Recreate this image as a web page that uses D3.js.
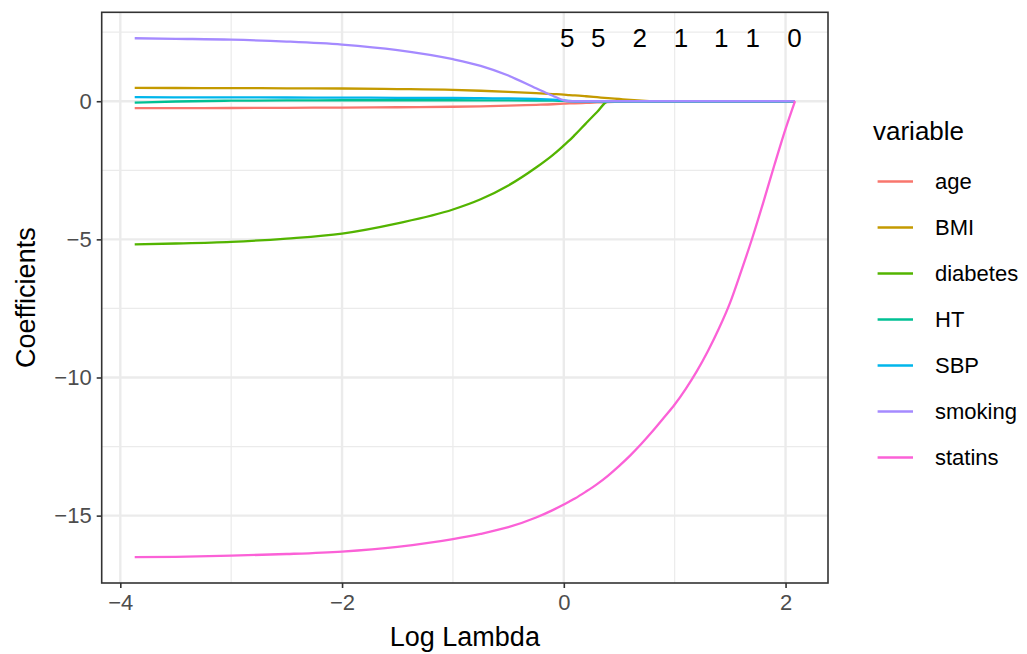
<!DOCTYPE html>
<html>
<head>
<meta charset="utf-8">
<script src="https://cdn.jsdelivr.net/npm/d3@7"></script>
<style>
  body { margin: 0; background: #fff; }
  text { font-family: "Liberation Sans", Arial, sans-serif; }
</style>
</head>
<body>
<div id="chart"></div>
<script>
// lasso coefficient paths
const logLambda = [-3.87, -3.5, -3, -2.5, -2, -1.5, -1, -0.75, -0.5, -0.25, -0.1, 0, 0.05, 0.1, 0.2, 0.3, 0.4, 0.5, 0.6, 0.7, 0.8, 0.9, 1.0, 1.1, 1.2, 1.3, 1.4, 1.5, 1.6, 1.7, 1.8, 1.9, 2.0, 2.085];

const age      = [-0.25, -0.248, -0.245, -0.238, -0.23, -0.218, -0.2, -0.185, -0.16, -0.13, -0.11, -0.09, -0.08, -0.075, -0.06, -0.045, -0.035, -0.02, -0.01, 0, 0, 0, 0, 0, 0, 0, 0, 0, 0, 0, 0, 0, 0, 0];
const bmi      = [0.48, 0.478, 0.475, 0.468, 0.46, 0.44, 0.41, 0.38, 0.34, 0.29, 0.26, 0.24, 0.22, 0.21, 0.18, 0.145, 0.11, 0.08, 0.05, 0.025, 0, 0, 0, 0, 0, 0, 0, 0, 0, 0, 0, 0, 0, 0];
const diabetes = [-5.18, -5.15, -5.09, -4.97, -4.79, -4.42, -3.92, -3.55, -3.05, -2.4, -1.95, -1.6, -1.42, -1.22, -0.8, -0.39, 0, 0, 0, 0, 0, 0, 0, 0, 0, 0, 0, 0, 0, 0, 0, 0, 0, 0];
const ht       = [-0.05, -0.01, 0.02, 0.03, 0.035, 0.035, 0.035, 0.033, 0.03, 0.025, 0.02, 0.01, 0, 0, 0, 0, 0, 0, 0, 0, 0, 0, 0, 0, 0, 0, 0, 0, 0, 0, 0, 0, 0, 0];
const sbp      = [0.145, 0.14, 0.138, 0.135, 0.13, 0.125, 0.12, 0.11, 0.1, 0.08, 0.06, 0.03, 0.01, 0, 0, 0, 0, 0, 0, 0, 0, 0, 0, 0, 0, 0, 0, 0, 0, 0, 0, 0, 0, 0];
const smoking  = [2.28, 2.26, 2.23, 2.16, 2.05, 1.85, 1.52, 1.28, 0.93, 0.47, 0.2, 0.03, 0, 0, 0, 0, 0, 0, 0, 0, 0, 0, 0, 0, 0, 0, 0, 0, 0, 0, 0, 0, 0, 0];
const statins  = [-16.5, -16.49, -16.45, -16.39, -16.3, -16.13, -15.85, -15.66, -15.42, -15.07, -14.8, -14.6, -14.49, -14.38, -14.13, -13.86, -13.55, -13.2, -12.82, -12.4, -11.95, -11.47, -10.98, -10.41, -9.77, -9.04, -8.22, -7.29, -6.15, -4.95, -3.65, -2.3, -1.0, 0];

const variables = ["age", "BMI", "diabetes", "HT", "SBP", "smoking", "statins"];
const coefs = [age, bmi, diabetes, ht, sbp, smoking, statins];
const colors = ["#F8766D", "#C49A00", "#53B400", "#00C094", "#00B6EB", "#A58AFF", "#FB61D7"];

// number of nonzero coefficients along the top
const dfLabels = ["5", "5", "2", "1", "1", "1", "0"];
const dfX = [0.032, 0.311, 0.686, 1.058, 1.42, 1.704, 2.08];

const xTicks = [-4, -2, 0, 2];
const yTicks = [0, -5, -10, -15];

(function() {
  const W = 1027, H = 654;
  const margin = { top: 12.3, right: 199, bottom: 71, left: 101.7 },
        width = W - margin.left - margin.right,
        height = H - margin.top - margin.bottom;

  const svg = d3.select("#chart")
    .append("svg")
    .attr("width", W)
    .attr("height", H)
    .append("g")
    .attr("transform", `translate(${margin.left},${margin.top})`);

  // ggplot style 5% expansion
  const xExt = d3.extent(logLambda);
  const allY = coefs.flat();
  const yExt = d3.extent(allY);
  const xPad = (xExt[1] - xExt[0]) * 0.05, yPad = (yExt[1] - yExt[0]) * 0.05;

  const x = d3.scaleLinear()
    .domain([xExt[0] - xPad, xExt[1] + xPad])
    .range([0, width]);

  const y = d3.scaleLinear()
    .domain([yExt[0] - yPad, yExt[1] + yPad])
    .range([height, 0]);

  // grid, minor first
  const xMinor = [-3, -1, 1];
  const yMinor = [2.5, -2.5, -7.5, -12.5];

  svg.selectAll(".xminor").data(xMinor).enter().append("line")
    .attr("x1", d => x(d)).attr("x2", d => x(d))
    .attr("y1", 0).attr("y2", height)
    .attr("stroke", "#EBEBEB").attr("stroke-width", 1.2);

  svg.selectAll(".yminor").data(yMinor).enter().append("line")
    .attr("x1", 0).attr("x2", width)
    .attr("y1", d => y(d)).attr("y2", d => y(d))
    .attr("stroke", "#EBEBEB").attr("stroke-width", 1.2);

  svg.selectAll(".xmajor").data(xTicks).enter().append("line")
    .attr("x1", d => x(d)).attr("x2", d => x(d))
    .attr("y1", 0).attr("y2", height)
    .attr("stroke", "#EBEBEB").attr("stroke-width", 2.4);

  svg.selectAll(".ymajor").data(yTicks).enter().append("line")
    .attr("x1", 0).attr("x2", width)
    .attr("y1", d => y(d)).attr("y2", d => y(d))
    .attr("stroke", "#EBEBEB").attr("stroke-width", 2.4);

  // coefficient paths
  const line = d3.line()
    .x((d, i) => x(logLambda[i]))
    .y(d => y(d))
    .curve(d3.curveMonotoneX);

  coefs.forEach((vals, k) => {
    svg.append("path")
      .datum(vals)
      .attr("d", line)
      .attr("fill", "none")
      .attr("stroke", colors[k])
      .attr("stroke-width", 2.3);
  });

  // df labels
  svg.selectAll(".df").data(dfLabels).enter().append("text")
    .attr("x", (d, i) => x(dfX[i]))
    .attr("y", y(d3.max(smoking)))
    .attr("text-anchor", "middle")
    .attr("dominant-baseline", "central")
    .style("font-size", "26px")
    .attr("fill", "#000")
    .text(d => d);

  // panel border
  svg.append("rect")
    .attr("width", width).attr("height", height)
    .attr("fill", "none").attr("stroke", "#333333").attr("stroke-width", 1.6);

  // axes
  const xAxis = svg.append("g")
    .attr("transform", `translate(0,${height})`)
    .call(d3.axisBottom(x).tickValues(xTicks).tickSize(5).tickPadding(6).tickFormat(d => d < 0 ? "\u2212" + Math.abs(d) : d));
  const yAxis = svg.append("g")
    .call(d3.axisLeft(y).tickValues(yTicks).tickSize(5).tickPadding(5).tickFormat(d => d < 0 ? "\u2212" + Math.abs(d) : d));

  [xAxis, yAxis].forEach(g => {
    g.select(".domain").remove();
    g.selectAll(".tick line").attr("stroke", "#333333").attr("stroke-width", 1.6);
    g.selectAll(".tick text").attr("fill", "#4D4D4D").style("font-size", "22px").style("font-family", "Liberation Sans, Arial, sans-serif");
  });

  svg.append("text")
    .attr("text-anchor", "middle")
    .attr("x", width / 2)
    .attr("y", height + 63)
    .style("font-size", "27px")
    .text("Log Lambda");

  svg.append("text")
    .attr("text-anchor", "middle")
    .attr("x", -height / 2)
    .attr("y", -67)
    .attr("transform", "rotate(-90)")
    .style("font-size", "27px")
    .text("Coefficients");

  // legend
  const lg = svg.append("g")
    .attr("transform", `translate(${873 - margin.left},${margin.top * -1})`);

  lg.append("text")
    .attr("x", 0).attr("y", 140)
    .style("font-size", "26px")
    .text("variable");

  const legend = lg.selectAll(".legend")
    .data(variables)
    .enter()
    .append("g")
    .attr("transform", (d, i) => `translate(0,${181.5 + i * 46})`);

  legend.append("line")
    .attr("x1", 4.6).attr("x2", 40)
    .attr("stroke", (d, i) => colors[i])
    .attr("stroke-width", 2.3);

  legend.append("text")
    .attr("x", 62)
    .attr("dominant-baseline", "central")
    .style("font-size", "22px")
    .text(d => d);
})();
</script>
</body>
</html>
